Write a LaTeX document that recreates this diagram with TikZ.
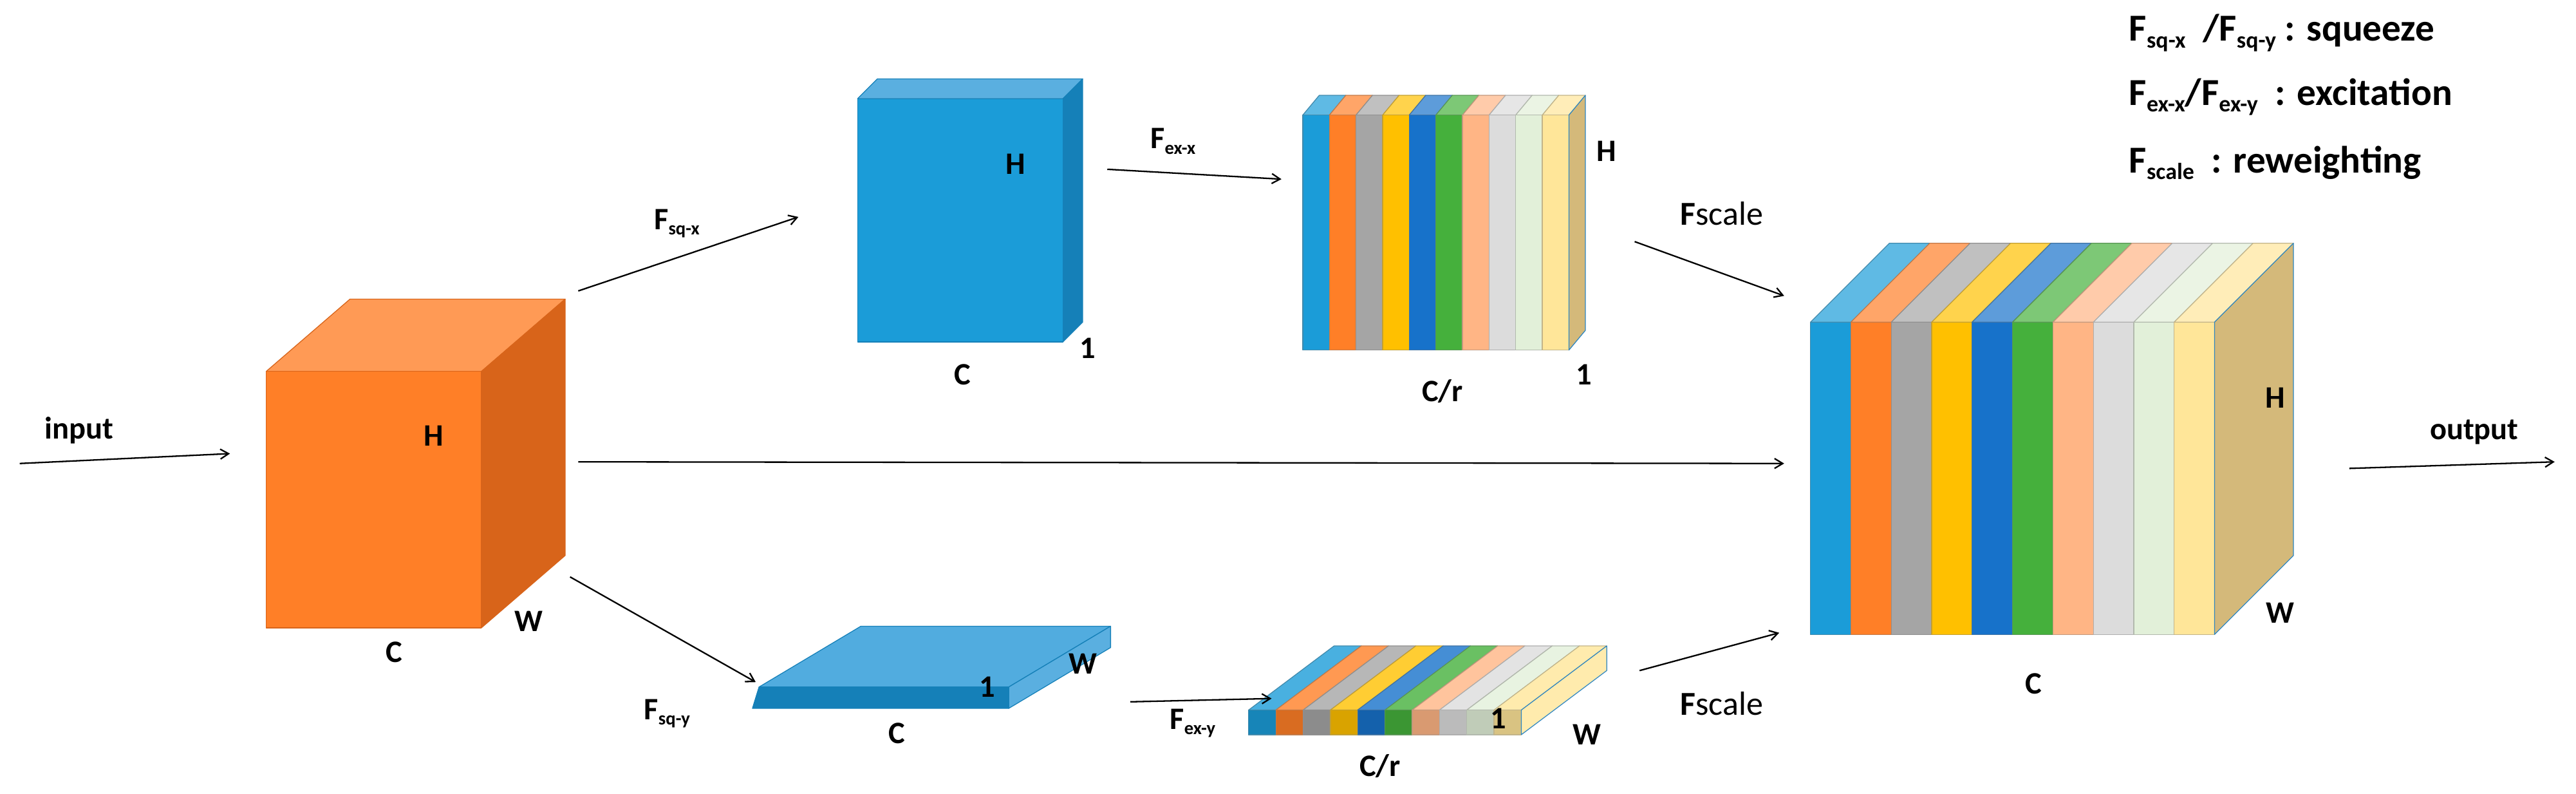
\documentclass[tikz,border=0pt]{standalone}
\usepackage{fontspec}
\usetikzlibrary{arrows.meta}
\setmainfont{Carlito}
\definecolor{s1}{HTML}{1B9CD8}\definecolor{s2}{HTML}{FF7F27}\definecolor{s3}{HTML}{A5A5A5}
\definecolor{s4}{HTML}{FFC000}\definecolor{s5}{HTML}{1772CA}\definecolor{s6}{HTML}{45B03C}
\definecolor{s7}{HTML}{FFB585}\definecolor{s8}{HTML}{DCDCDC}\definecolor{s9}{HTML}{E2F0D9}
\definecolor{s10}{HTML}{FFE699}\definecolor{side}{HTML}{D4B97A}
\definecolor{edge}{HTML}{2E86C1}
\definecolor{org}{HTML}{FF7F27}\definecolor{orgtop}{HTML}{FF9A55}\definecolor{orgside}{HTML}{D8641A}
\definecolor{bl}{HTML}{1B9CD8}\definecolor{bltop}{HTML}{5AAFE0}\definecolor{blside}{HTML}{1580B8}
\newcommand{\sbs}[1]{\raisebox{-.35ex}{\fontsize{32}{32}\selectfont #1}}
\newcommand{\sbl}[1]{\raisebox{-.35ex}{\fontsize{40}{40}\selectfont #1}}
\tikzset{lbl/.style={font=\fontsize{54}{60}\selectfont\bfseries, inner sep=0pt},
 leg/.style={font=\fontsize{66}{72}\selectfont\bfseries, inner sep=0pt, anchor=west},
 arr/.style={-{Straight Barb[length=5mm,width=6mm]}, line width=0.9mm},
 fc/.style={draw=edge, line width=0.5mm, line join=round}}
\begin{document}
\begin{tikzpicture}[x=1mm,y=-1mm]
\useasboundingbox (0,0) rectangle (1568,483);
% orange cube
\draw[fc,draw=orgside,fill=orgtop] (162,226)--(213,182)--(344,182)--(293,226)--cycle;
\draw[fc,draw=orgside,fill=orgside] (293,226)--(344,182)--(344,338)--(293,382)--cycle;
\draw[fc,draw=orgside,fill=org] (162,226) rectangle (293,382);
\node[lbl] (oh) at (264,265) {H}; \node[lbl] (oc) at (240,397) {C}; \node[lbl] (ow) at (322,378) {W};
% blue box
\draw[fc,draw=blside,fill=bltop] (522,60)--(534,48)--(659,48)--(647,60)--cycle;
\draw[fc,draw=blside,fill=blside] (647,60)--(659,48)--(659,196)--(647,208)--cycle;
\draw[fc,draw=blside,fill=bl] (522,60) rectangle (647,208);
\node[lbl] (bh) at (618,100) {H}; \node[lbl] (bc) at (586,228) {C}; \node[lbl] (b1) at (662,212) {1};
% top striped
\foreach \c [count=\i from 0] in {s1,s2,s3,s4,s5,s6,s7,s8,s9,s10}{
 \pgfmathsetmacro\xa{793+16.2*\i}\pgfmathsetmacro\xb{\xa+16.2}
 \draw[fc,draw=\c!70!black!80,fill=\c!70!white] (\xa,70)--(\xa+10,58)--(\xb+10,58)--(\xb,70)--cycle;
 \draw[fc,draw=\c!70!black!80,fill=\c] (\xa,70) rectangle (\xb,213);}
\draw[fc,fill=side] (955,70)--(965,58)--(965,201)--(955,213)--cycle;
\node[lbl] (th) at (978,92) {H}; \node[lbl] (tc) at (878,238) {C/r}; \node[lbl] (t1) at (964,228) {1};
% big cube
\foreach \c [count=\i from 0] in {s1,s2,s3,s4,s5,s6,s7,s8,s9,s10}{
 \pgfmathsetmacro\xa{1102+24.6*\i}\pgfmathsetmacro\xb{\xa+24.6}
 \draw[fc,draw=\c!70!black!80,fill=\c!70!white] (\xa,196)--(\xa+48,148)--(\xb+48,148)--(\xb,196)--cycle;
 \draw[fc,draw=\c!70!black!80,fill=\c] (\xa,196) rectangle (\xb,386);}
\draw[fc,fill=side] (1348,196)--(1396,148)--(1396,338)--(1348,386)--cycle;
\node[lbl] (gh) at (1385,242) {H}; \node[lbl] (gw) at (1388,373) {W}; \node[lbl] (gc) at (1238,416) {C};
% blue slab
\draw[fc,draw=blside,fill=bltop!85!bl] (462,418)--(524,381)--(676,381)--(614,418)--cycle;
\draw[fc,draw=blside,fill=bltop] (614,418)--(676,381)--(676,394)--(614,431)--cycle;
\draw[fc,draw=blside,fill=blside] (462,418)--(614,418)--(614,431)--(458,431)--cycle;
\node[lbl] (sc) at (546,446) {C}; \node[lbl] (s1n) at (601,418) {1}; \node[lbl] (sw) at (659,404) {W};
% bottom striped slab
\foreach \c [count=\i from 0] in {s1,s2,s3,s4,s5,s6,s7,s8,s9,s10}{
 \pgfmathsetmacro\xa{760+16.6*\i}\pgfmathsetmacro\xb{\xa+16.6}
 \draw[fc,draw=\c!70!black!80,fill=\c!80!white] (\xa,432)--(\xa+52,393)--(\xb+52,393)--(\xb,432)--cycle;
 \draw[fc,draw=\c!70!black!80,fill=\c!85!black] (\xa,432) rectangle (\xb,447);}
\draw[fc,fill=s10!80!white] (926,432)--(978,393)--(978,408)--(926,447)--cycle;
\node[lbl] (pc) at (840,466) {C/r}; \node[lbl] (p1) at (912,437) {1}; \node[lbl] (pw) at (966,447) {W};
% arrows
\coordinate (a1) at (12,282); \coordinate (a2) at (140,276);
\draw[arr] (a1)--(a2); \node[lbl] (lin) at (48,262) {input};
\coordinate (b1s) at (352,177); \coordinate (b1e) at (486,132);
\draw[arr] (b1s)--(b1e); \node[lbl] (lsqx) at (412,136) {F\sbs{sq-x}};
\coordinate (c1s) at (674,103); \coordinate (c1e) at (780,109);
\draw[arr] (c1s)--(c1e); \node[lbl] (lexx) at (714,86) {F\sbs{ex-x}};
\coordinate (d1s) at (995,147); \coordinate (d1e) at (1086,180);
\draw[arr] (d1s)--(d1e); \node[lbl,font=\fontsize{58}{64}\selectfont] (lfs1) at (1048,130) {\textbf{F}scale};
\coordinate (m1) at (352,281); \coordinate (m2) at (1086,282);
\draw[arr] (m1)--(m2);
\coordinate (o1) at (1430,285); \coordinate (o2) at (1555,281);
\draw[arr] (o1)--(o2); \node[lbl] (lout) at (1506,263) {output};
\coordinate (e1s) at (347,351); \coordinate (e1e) at (460,415);
\draw[arr] (e1s)--(e1e); \node[lbl] (lsqy) at (406,434) {F\sbs{sq-y}};
\coordinate (f1s) at (688,427); \coordinate (f1e) at (774,425);
\draw[arr] (f1s)--(f1e); \node[lbl] (lexy) at (726,440) {F\sbs{ex-y}};
\coordinate (g1s) at (998,408); \coordinate (g1e) at (1083,385);
\draw[arr] (g1s)--(g1e); \node[lbl,font=\fontsize{58}{64}\selectfont] (lfs2) at (1048,428) {\textbf{F}scale};
% legend
\node[leg] (lg1) at (1296,20) {F\sbl{sq-x}\ \ /F\sbl{sq-y} : squeeze};
\node[leg] (lg2) at (1296,59) {F\sbl{ex-x}/F\sbl{ex-y}\ \ : excitation};
\node[leg] (lg3) at (1296,99) {F\sbl{scale}\ \ : reweighting};
\end{tikzpicture}
\end{document}
